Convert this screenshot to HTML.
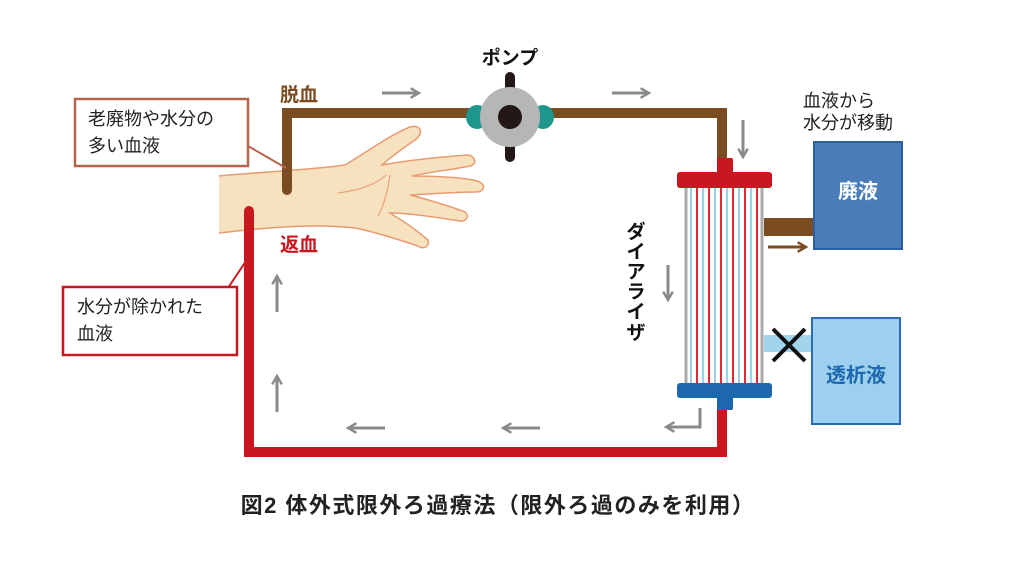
<!DOCTYPE html>
<html><head><meta charset="utf-8"><style>
html,body{margin:0;padding:0;background:#fff}
svg{display:block}
text{font-family:"Liberation Sans","Noto Sans CJK JP",sans-serif}
</style></head><body>
<svg width="1024" height="576" viewBox="0 0 1024 576" xmlns="http://www.w3.org/2000/svg">
<defs>
<marker id="ag" viewBox="0 0 10 10" refX="8" refY="5" markerWidth="4" markerHeight="4" orient="auto"><path d="M1,1 L8,5 L1,9" fill="none" stroke="#8a8a8a" stroke-width="2"/></marker>
<marker id="ab" viewBox="0 0 10 10" refX="8" refY="5" markerWidth="4" markerHeight="4" orient="auto"><path d="M1,1 L8,5 L1,9" fill="none" stroke="#7b4b22" stroke-width="2"/></marker>
</defs>
<!-- hand -->
<path d="M218,176 C260,172 310,170 345,165 C370,150 390,135 410,127 C420,124 425,132 415,140 C400,150 390,158 382,165 C410,160 440,157 468,155 C475,156 478,164 470,166 C450,170 430,172 412,176 C440,176 470,178 480,182 C486,186 484,192 476,192 C455,192 430,194 410,195 C430,200 455,208 465,212 C470,216 466,222 460,221 C440,218 410,213 390,213 C405,222 420,233 428,240 C430,246 424,250 418,246 C400,240 375,232 355,228 C320,224 280,226 218,233 Z" fill="#f7e2bf" stroke="#e89a70" stroke-width="1.5"/>
<path d="M338,193 C360,190 375,185 386,175" fill="none" stroke="#e89a70" stroke-width="1"/>
<path d="M390,175 C388,190 384,205 378,216" fill="none" stroke="#e89a70" stroke-width="1"/>
<rect x="205" y="170" width="14" height="70" fill="#fff"/>
<!-- brown tube -->
<path d="M287,190 L287,113 L722,113 L722,165" fill="none" stroke="#7b4b22" stroke-width="10" stroke-linecap="round"/>
<!-- red tube -->
<path d="M722,405 L722,452 L249,452 L249,211" fill="none" stroke="#c8171e" stroke-width="10" stroke-linecap="round"/>
<!-- pump -->
<rect x="505" y="72" width="10" height="90" rx="5" fill="#231815"/>
<ellipse cx="477" cy="117" rx="11" ry="12" fill="#1e968c"/>
<ellipse cx="543" cy="117" rx="11" ry="12" fill="#1e968c"/>
<circle cx="510" cy="117" r="30" fill="#b5b6b6"/>
<circle cx="510" cy="117" r="12" fill="#231815"/>
<!-- dialyzer -->
<rect x="717" y="158" width="16" height="16" rx="2" fill="#c8171e"/>
<rect x="684" y="186" width="80" height="200" fill="#fff"/>
<g stroke-width="2">
<line x1="686" y1="186" x2="686" y2="386" stroke="#aaa" stroke-width="3"/>
<line x1="762" y1="186" x2="762" y2="386" stroke="#aaa" stroke-width="3"/>
<line x1="691" y1="186" x2="691" y2="386" stroke="#9fcfe8"/>
<line x1="697" y1="186" x2="697" y2="386" stroke="#e8262e"/>
<line x1="703" y1="186" x2="703" y2="386" stroke="#9fcfe8"/>
<line x1="709" y1="186" x2="709" y2="386" stroke="#e8262e"/>
<line x1="715" y1="186" x2="715" y2="386" stroke="#9fcfe8"/>
<line x1="721" y1="186" x2="721" y2="386" stroke="#e8262e"/>
<line x1="727" y1="186" x2="727" y2="386" stroke="#9fcfe8"/>
<line x1="733" y1="186" x2="733" y2="386" stroke="#e8262e"/>
<line x1="739" y1="186" x2="739" y2="386" stroke="#9fcfe8"/>
<line x1="745" y1="186" x2="745" y2="386" stroke="#e8262e"/>
<line x1="751" y1="186" x2="751" y2="386" stroke="#9fcfe8"/>
<line x1="757" y1="186" x2="757" y2="386" stroke="#e8262e"/>
</g>
<rect x="677" y="172" width="95" height="16" rx="3" fill="#c8171e"/>
<rect x="677" y="383" width="95" height="15" rx="3" fill="#1c67ae"/>
<rect x="717" y="396" width="16" height="14" rx="2" fill="#1c67ae"/>
<!-- waste -->
<rect x="764" y="218" width="50" height="18" fill="#7b4b22"/>
<line x1="768" y1="247" x2="806" y2="247" stroke="#7b4b22" stroke-width="3" marker-end="url(#ab)"/>
<rect x="814" y="142" width="88" height="107" fill="#4a7cb8" stroke="#2a5fa0" stroke-width="2"/>
<text x="858" y="198" font-size="20" font-weight="bold" fill="#fff" text-anchor="middle">廃液</text>
<!-- dialysate -->
<rect x="764" y="335" width="50" height="17" fill="#a3d4ee"/>
<rect x="812" y="318" width="88" height="106" fill="#9dd0ee" stroke="#2a6db0" stroke-width="2"/>
<text x="856" y="382" font-size="20" font-weight="bold" fill="#1c67ae" text-anchor="middle">透析液</text>
<path d="M773,329 L805,361 M805,329 L773,361" stroke="#111" stroke-width="4"/>
<!-- gray arrows -->
<g stroke="#8a8a8a" stroke-width="3" fill="none">
<line x1="382" y1="93" x2="419" y2="93" marker-end="url(#ag)"/>
<line x1="612" y1="93" x2="649" y2="93" marker-end="url(#ag)"/>
<line x1="743" y1="120" x2="743" y2="157" marker-end="url(#ag)"/>
<line x1="668" y1="265" x2="668" y2="300" marker-end="url(#ag)"/>
<path d="M700,408 L700,427 L666,427" marker-end="url(#ag)"/>
<line x1="540" y1="428" x2="503" y2="428" marker-end="url(#ag)"/>
<line x1="385" y1="428" x2="348" y2="428" marker-end="url(#ag)"/>
<line x1="277" y1="312" x2="277" y2="276" marker-end="url(#ag)"/>
<line x1="277" y1="412" x2="277" y2="376" marker-end="url(#ag)"/>
</g>
<!-- labels -->
<text x="510" y="64" font-size="19" font-weight="bold" fill="#111" text-anchor="middle">ポンプ</text>
<text x="280" y="101" font-size="19" font-weight="bold" fill="#7b4b22">脱血</text>
<text x="280" y="251" font-size="19" font-weight="bold" fill="#c8171e">返血</text>
<text x="803" y="107" font-size="18" fill="#222">血液から</text>
<text x="803" y="129" font-size="18" fill="#222">水分が移動</text>
<g font-size="19" font-weight="bold" fill="#111" text-anchor="middle">
<text x="636" y="238">ダ</text><text x="636" y="258">イ</text><text x="636" y="278">ア</text><text x="636" y="298">ラ</text><text x="636" y="318">イ</text><text x="636" y="339">ザ</text>
</g>
<line x1="248" y1="146" x2="286" y2="168" stroke="#b5654a" stroke-width="2"/>
<rect x="75" y="99" width="173" height="67" fill="#fff" stroke="#b5654a" stroke-width="2.5"/>
<text x="88" y="125" font-size="18" fill="#222">老廃物や水分の</text>
<text x="88" y="152" font-size="18" fill="#222">多い血液</text>
<line x1="228" y1="288" x2="248" y2="258" stroke="#c8171e" stroke-width="2"/>
<rect x="63" y="287" width="174" height="68" fill="#fff" stroke="#c8171e" stroke-width="2.5"/>
<text x="77" y="313" font-size="18" fill="#222">水分が除かれた</text>
<text x="77" y="340" font-size="18" fill="#222">血液</text>
<text x="498" y="513" font-size="22" font-weight="bold" fill="#222" text-anchor="middle" letter-spacing="1.5">図2 体外式限外ろ過療法（限外ろ過のみを利用）</text>
</svg>
</body></html>
